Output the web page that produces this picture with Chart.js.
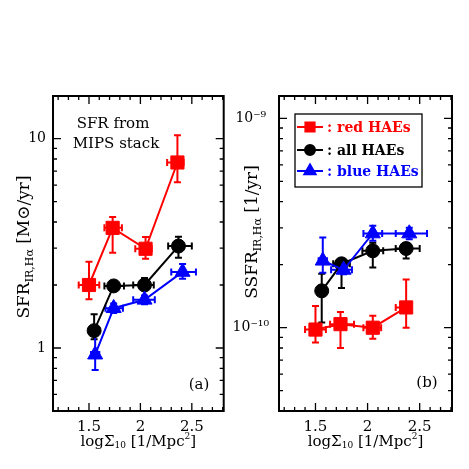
<!DOCTYPE html>
<html lang="en">
<head>
<meta charset="UTF-8">
<title>SFR / SSFR vs local density</title>
<script src="https://cdn.jsdelivr.net/npm/chart.js"></script>
<style>
  body { margin: 0; background: #fff; }
  #wrap { position: relative; width: 469px; height: 469px; }
  canvas { position: absolute; top: 0; }
  #chartA { left: 0; }
  #chartB { left: 226px; }
</style>
</head>
<body>
<div id="wrap">
  <canvas id="chartA" width="234" height="469"></canvas>
  <canvas id="chartB" width="243" height="469"></canvas>
</div>
<script>
// ---- data ----
const xTicks = [1.5, 2, 2.5];
const xTickLabels = ['1.5', '2', '2.5'];
const yTicksA = [1, 10];
const yTickLabelsA = ['1', '10'];
const yTicksB = [1e-10, 1e-9];
const yTickLabelsB = ['10\u207B\u00B9\u2070', '10\u207B\u2079'];

const seriesNames = [': red HAEs', ': all HAEs', ': blue HAEs'];

// panel (a): SFR [Msun/yr]
const redA_x   = [1.50, 1.73, 2.05, 2.36];
const redA_y   = [2.00, 3.75, 2.98, 7.70];
const redA_ylo = [1.71, 2.85, 2.67, 6.20];
const redA_yhi = [2.58, 4.23, 3.39, 10.4];
const redA_xlo = [1.40, 1.65, 1.95, 2.26];
const redA_xhi = [1.60, 1.82, 2.11, 2.42];

const allA_x   = [1.55, 1.74, 2.04, 2.37];
const allA_y   = [1.21, 1.98, 2.00, 3.07];
const allA_ylo = [1.10, 1.90, 1.90, 2.70];
const allA_yhi = [1.45, 2.07, 2.16, 3.40];
const allA_xlo = [1.50, 1.65, 1.93, 2.27];
const allA_xhi = [1.60, 1.84, 2.13, 2.50];

const blueA_x   = [1.56, 1.74, 2.04, 2.41];
const blueA_y   = [0.93, 1.55, 1.70, 2.31];
const blueA_ylo = [0.785, 1.47, 1.62, 2.14];
const blueA_yhi = [1.22, 1.63, 1.78, 2.52];
const blueA_xlo = [1.52, 1.66, 1.93, 2.30];
const blueA_xhi = [1.60, 1.83, 2.14, 2.54];

// panel (b): SSFR [1/yr]
const redB_x   = [1.50, 1.74, 2.05, 2.37];
const redB_y   = [0.98e-10, 1.04e-10, 1.00e-10, 1.25e-10];
const redB_ylo = [0.85e-10, 0.80e-10, 0.886e-10, 1.00e-10];
const redB_yhi = [1.27e-10, 1.19e-10, 1.14e-10, 1.70e-10];
const redB_xlo = [1.40, 1.64, 1.96, 2.27];
const redB_xhi = [1.60, 1.87, 2.13, 2.41];

const allB_x   = [1.56, 1.75, 2.05, 2.37];
const allB_y   = [1.50e-10, 2.02e-10, 2.33e-10, 2.39e-10];
const allB_ylo = [1.06e-10, 1.55e-10, 1.94e-10, 2.14e-10];
const allB_yhi = [1.81e-10, 2.10e-10, 2.55e-10, 2.52e-10];
const allB_xlo = [1.52, 1.67, 1.95, 2.27];
const allB_xhi = [1.60, 1.83, 2.15, 2.50];

const blueB_x   = [1.57, 1.77, 2.05, 2.40];
const blueB_y   = [2.09e-10, 1.89e-10, 2.82e-10, 2.82e-10];
const blueB_ylo = [1.83e-10, 1.80e-10, 2.60e-10, 2.65e-10];
const blueB_yhi = [2.70e-10, 1.98e-10, 3.07e-10, 3.00e-10];
const blueB_xlo = [1.53, 1.65, 1.96, 2.27];
const blueB_xhi = [1.61, 1.85, 2.14, 2.57];

const RED = '#ff0000', BLACK = '#000000', BLUE = '#0000ff';
const FONT = '"DejaVu Serif", serif';
Chart.defaults.font.family = FONT;
Chart.defaults.color = '#000';

function pts(xs, ys) { return xs.map((v, i) => ({ x: v, y: ys[i] })); }

function series(label, color, style, radius, order, xs, ys, xlo, xhi, ylo, yhi) {
    return {
        label: label, data: pts(xs, ys), showLine: true,
        borderColor: color, backgroundColor: color, borderWidth: 2,
        pointStyle: style, pointRadius: radius, pointHoverRadius: radius,
        pointBackgroundColor: color, pointBorderColor: color, pointBorderWidth: 1,
        order: order,
        err: { xlo: xlo, xhi: xhi, ylo: ylo, yhi: yhi }
    };
}

// draws text pieces with sub/superscripts, centred on (x, y)
function drawRich(ctx, parts, x, y, rotate) {
    ctx.save();
    ctx.translate(x, y);
    if (rotate) ctx.rotate(-Math.PI / 2);
    let total = 0;
    parts.forEach(p => { ctx.font = p.size + 'px ' + FONT; p.w = ctx.measureText(p.t).width; total += p.w; });
    let cx = -total / 2;
    ctx.textBaseline = 'middle';
    ctx.textAlign = 'left';
    ctx.fillStyle = '#000';
    parts.forEach(p => { ctx.font = p.size + 'px ' + FONT; ctx.fillText(p.t, cx, p.dy || 0); cx += p.w; });
    ctx.restore();
}

const panelDecor = {
    id: 'panelDecor',
    beforeDatasetsDraw(chart) {
        const { ctx, scales: { x, y } } = chart;
        const cap = 3.5;
        chart.data.datasets.forEach(ds => {
            const e = ds.err;
            ctx.save();
            ctx.strokeStyle = ds.borderColor;
            ctx.lineWidth = 2;
            ctx.beginPath();
            ds.data.forEach((p, i) => {
                const px = x.getPixelForValue(p.x), py = y.getPixelForValue(p.y);
                const x0 = x.getPixelForValue(e.xlo[i]), x1 = x.getPixelForValue(e.xhi[i]);
                const y0 = y.getPixelForValue(e.ylo[i]), y1 = y.getPixelForValue(e.yhi[i]);
                ctx.moveTo(x0, py); ctx.lineTo(x1, py);
                ctx.moveTo(x0, py - cap); ctx.lineTo(x0, py + cap);
                ctx.moveTo(x1, py - cap); ctx.lineTo(x1, py + cap);
                ctx.moveTo(px, y0); ctx.lineTo(px, y1);
                ctx.moveTo(px - cap, y0); ctx.lineTo(px + cap, y0);
                ctx.moveTo(px - cap, y1); ctx.lineTo(px + cap, y1);
            });
            ctx.stroke();
            ctx.restore();
        });
    },
    afterDraw(chart, args, opts) {
        const { ctx, chartArea: a, scales: { x, y } } = chart;
        ctx.save();
        ctx.strokeStyle = '#000';
        // inward ticks on all four sides
        ctx.lineWidth = 1.3;
        ctx.beginPath();
        for (let k = 12; k <= 28; k++) {
            const v = k / 10, px = x.getPixelForValue(v);
            const len = (k % 5 === 0) ? 8 : 4;
            ctx.moveTo(px, a.bottom); ctx.lineTo(px, a.bottom - len);
            ctx.moveTo(px, a.top); ctx.lineTo(px, a.top + len);
        }
        const d0 = Math.floor(Math.log10(y.min)), d1 = Math.ceil(Math.log10(y.max));
        for (let d = d0; d <= d1; d++) {
            for (let k = 1; k <= 9; k++) {
                const v = k * Math.pow(10, d);
                if (v < y.min || v > y.max) continue;
                const py = y.getPixelForValue(v);
                const len = k === 1 ? 8 : 4;
                ctx.moveTo(a.left, py); ctx.lineTo(a.left + len, py);
                ctx.moveTo(a.right, py); ctx.lineTo(a.right - len, py);
            }
        }
        ctx.stroke();
        ctx.lineWidth = 2;
        ctx.strokeRect(a.left, a.top, a.right - a.left, a.bottom - a.top);

        // axis titles
        drawRich(ctx, [
            { t: 'log\u03A3', size: 15 }, { t: '10', size: 9, dy: 4 },
            { t: ' [1/Mpc', size: 15 }, { t: '2', size: 9, dy: -5 }, { t: ']', size: 15 }
        ], (a.left + a.right) / 2, 442, false);
        drawRich(ctx, opts.yTitle, opts.yTitleX, opts.yTitleY, true);

        // panel notes
        ctx.fillStyle = '#000';
        ctx.textAlign = 'center';
        ctx.textBaseline = 'middle';
        ctx.font = '15px ' + FONT;
        (opts.notes || []).forEach(n => ctx.fillText(n.t, n.x, n.y));

        // legend box
        if (opts.legend) {
            const lx = a.left + 16, ly = a.top + 18, lw = 127, lh = 73;
            ctx.lineWidth = 1.3;
            ctx.strokeRect(lx, ly, lw, lh);
            const rows = [ly + 13, ly + 36, ly + 57];
            chart.data.datasets.forEach((ds, i) => {
                const ry = rows[i];
                ctx.strokeStyle = ds.borderColor;
                ctx.fillStyle = ds.borderColor;
                ctx.lineWidth = 2;
                ctx.beginPath(); ctx.moveTo(lx + 2, ry); ctx.lineTo(lx + 28, ry); ctx.stroke();
                const r = ds.pointStyle === 'circle' ? 5 : 6.5;
                Chart.helpers.drawPoint(ctx, { pointStyle: ds.pointStyle, radius: r, rotation: 0, borderWidth: 1 }, lx + 15, ry);
                ctx.font = 'bold 14px ' + FONT;
                ctx.textAlign = 'left';
                ctx.fillText(seriesNames[i], lx + 32, ry + 1);
            });
        }
        ctx.restore();
    }
};

function makePanel(id, datasets, yMin, yMax, yTickVals, yTickLabels, yCross, yPad, rightPad, decor) {
    return new Chart(document.getElementById(id), {
        type: 'scatter',
        data: { datasets: datasets },
        options: {
            responsive: false,
            animation: false,
            devicePixelRatio: 1,
            layout: { padding: { top: 96, right: rightPad, left: 0, bottom: 0 } },
            plugins: { legend: { display: false }, tooltip: { enabled: false }, panelDecor: decor },
            scales: {
                x: {
                    type: 'linear', min: 1.15, max: 2.81,
                    afterFit: s => { s.height = 58; },
                    afterBuildTicks: s => { s.ticks = xTicks.map(v => ({ value: v })); },
                    ticks: { callback: (v, i) => xTickLabels[i], padding: 7, maxRotation: 0, autoSkip: false, font: { size: 15 }, color: '#000' },
                    grid: { display: false, drawTicks: false },
                    border: { display: false }
                },
                y: {
                    type: 'logarithmic', min: yMin, max: yMax,
                    afterFit: s => { s.width = 53; },
                    afterBuildTicks: s => { s.ticks = yTickVals.map(v => ({ value: v })); },
                    ticks: { callback: (v, i) => yTickLabels[i], padding: yPad, crossAlign: yCross, autoSkip: false, font: { size: 14 }, color: '#000' },
                    grid: { display: false, drawTicks: false },
                    border: { display: false }
                }
            }
        },
        plugins: [panelDecor]
    });
}

makePanel('chartA', [
    series('red HAEs', RED, 'rect', 9.3, 2, redA_x, redA_y, redA_xlo, redA_xhi, redA_ylo, redA_yhi),
    series('all HAEs', BLACK, 'circle', 7, 1, allA_x, allA_y, allA_xlo, allA_xhi, allA_ylo, allA_yhi),
    series('blue HAEs', BLUE, 'triangle', 8.7, 0, blueA_x, blueA_y, blueA_xlo, blueA_xhi, blueA_ylo, blueA_yhi)
], 0.5, 16, yTicksA, yTickLabelsA, 'near', 7, 8, {
    yTitle: [{ t: 'SFR', size: 17 }, { t: 'IR,H\u03B1', size: 11, dy: 5 }, { t: ' [M\u2299/yr]', size: 17 }],
    yTitleX: 25, yTitleY: 247,
    notes: [{ t: 'SFR from', x: 113, y: 124 }, { t: 'MIPS stack', x: 116, y: 144 }, { t: '(a)', x: 199, y: 385 }],
    legend: false
});

makePanel('chartB', [
    series('red HAEs', RED, 'rect', 9.3, 2, redB_x, redB_y, redB_xlo, redB_xhi, redB_ylo, redB_yhi),
    series('all HAEs', BLACK, 'circle', 7, 1, allB_x, allB_y, allB_xlo, allB_xhi, allB_ylo, allB_yhi),
    series('blue HAEs', BLUE, 'triangle', 8.7, 0, blueB_x, blueB_y, blueB_xlo, blueB_xhi, blueB_ylo, blueB_yhi)
], 4e-11, 1.28e-9, yTicksB, yTickLabelsB, 'center', 10, 17, {
    yTitle: [{ t: 'SSFR', size: 17 }, { t: 'IR,H\u03B1', size: 11, dy: 5 }, { t: ' [1/yr]', size: 17 }],
    yTitleX: 27, yTitleY: 232,
    notes: [{ t: '(b)', x: 201, y: 383 }],
    legend: true
});
</script>
</body>
</html>
